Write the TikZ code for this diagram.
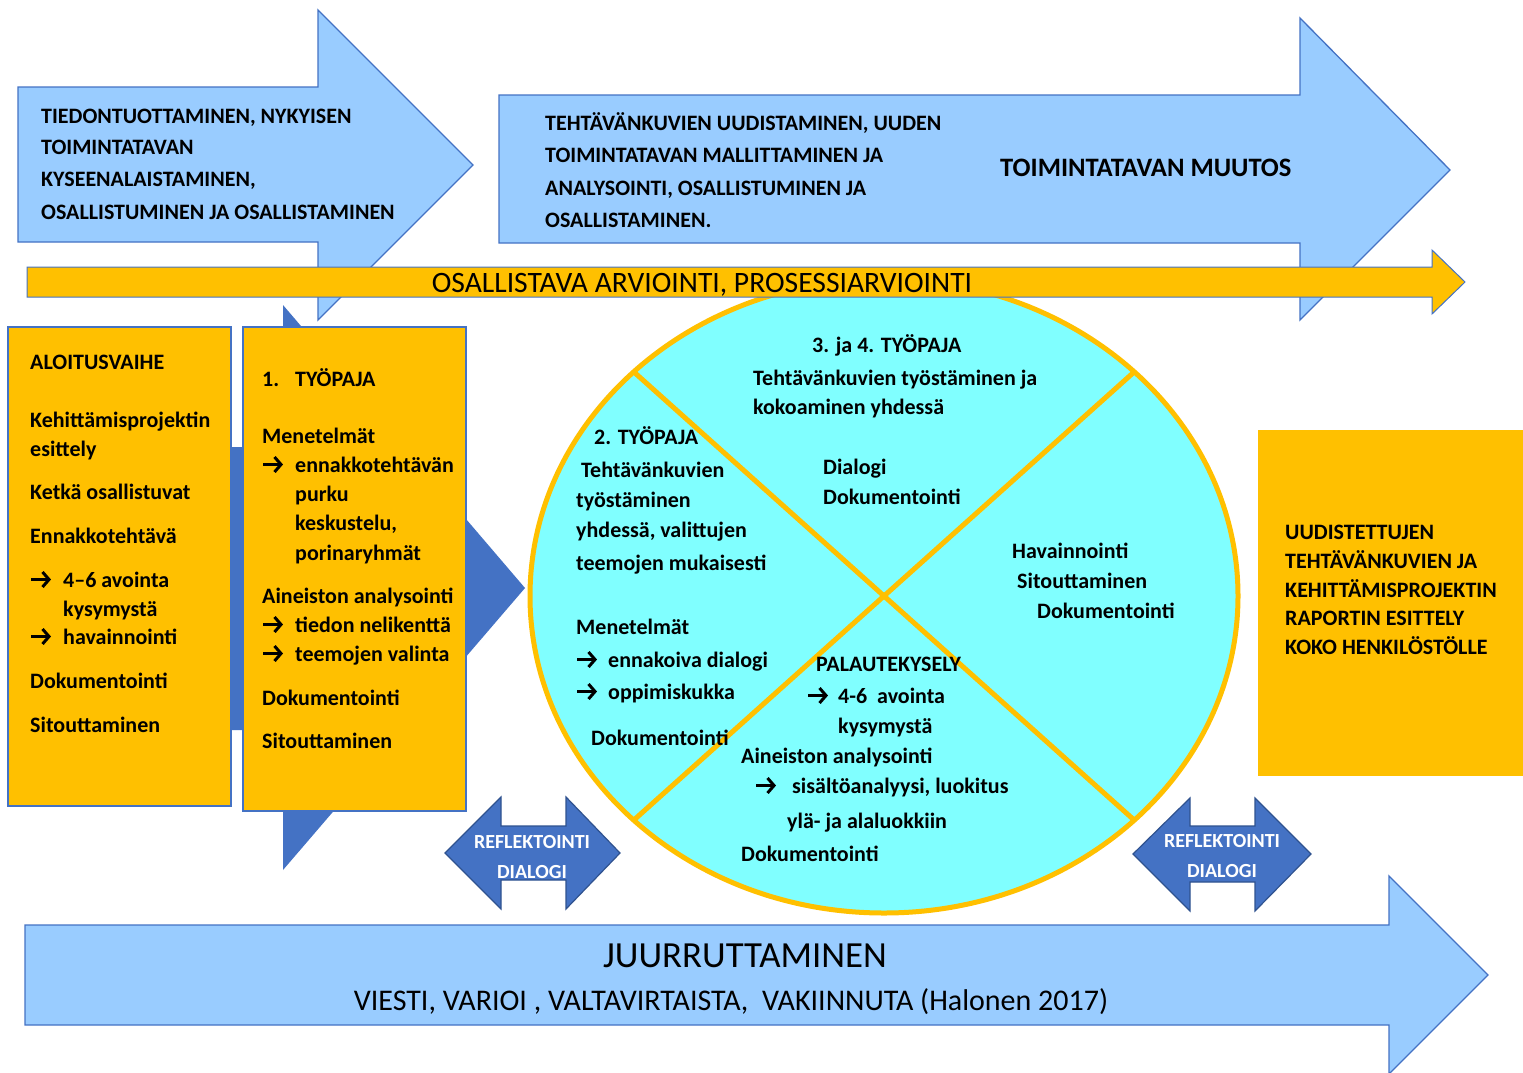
\documentclass[tikz,border=0pt]{standalone}
\usepackage{fontspec}
\usetikzlibrary{arrows.meta}
\setmainfont{Carlito}
\definecolor{lblue}{RGB}{153,204,255}
\definecolor{mblue}{RGB}{68,114,196}
\definecolor{dblue}{RGB}{47,82,143}
\definecolor{orng}{RGB}{255,192,0}
\definecolor{cyanf}{RGB}{128,255,255}
\newcommand{\ar}[1]{\makebox[#1pt][l]{}}
\begin{document}
\begin{tikzpicture}[x=1pt,y=-1pt,
  bt/.style={font=\fontsize{22}{26}\selectfont\bfseries, anchor=base west, inner sep=0pt},
  wt/.style={font=\fontsize{20}{24}\selectfont\bfseries, text=white, anchor=base, inner sep=0pt},
  lbarrow/.style={fill=lblue, draw=mblue, line width=1.3pt},
  obox/.style={fill=orng, draw=mblue, line width=1.2pt},
  dbl/.style={fill=mblue, draw=dblue, line width=1.2pt},
  sep/.style={draw=orng, line width=5pt},
  bularr/.style={line width=3pt, -{Straight Barb[length=6.5pt,width=15pt,line width=3pt]}}]
\useasboundingbox (0,0) rectangle (1523,1072);
\fill[white] (0,0) rectangle (1523,1072);
% top arrows
\draw[lbarrow] (18,87) -- (318,87) -- (318,10) -- (473,165) -- (318,320) -- (318,242) -- (18,242) -- cycle;
\draw[lbarrow] (499,95) -- (1300,95) -- (1300,18) -- (1450,170) -- (1300,320) -- (1300,243) -- (499,243) -- cycle;
% circle
\draw[sep, fill=cyanf] (884,596) ellipse [x radius=354, y radius=317];
\draw[sep] (633.7,371.8) -- (1134.3,820.2);
\draw[sep] (1134.3,371.8) -- (633.7,820.2);
% yellow arrow
\draw[fill=orng, draw=mblue, line width=1pt] (27,267) -- (1432,267) -- (1432,250) -- (1465,282) -- (1432,314) -- (1432,297) -- (27,297) -- cycle;
\node[font=\fontsize{29.6}{32}\selectfont, anchor=base, inner sep=0pt] (osal) at (702,292) {OSALLISTAVA ARVIOINTI, PROSESSIARVIOINTI};
% dark blue arrow behind boxes
\fill[mblue] (100,447) -- (283,447) -- (283,305) -- (525,588) -- (283,870) -- (283,730) -- (100,730) -- cycle;
% boxes
\draw[obox] (8,327) rectangle (231,806);
\draw[obox] (243,327) rectangle (466,811);
\fill[orng] (1258,430) rectangle (1523,776);
% double arrows
\draw[dbl] (445,853) -- (501,797) -- (501,826) -- (566,826) -- (566,797) -- (620,853) -- (566,909) -- (566,880) -- (501,880) -- (501,909) -- cycle;
\draw[dbl] (1133,854) -- (1190,798) -- (1190,826) -- (1255,826) -- (1255,798) -- (1311,854) -- (1255,911) -- (1255,882) -- (1190,882) -- (1190,911) -- cycle;
\node[wt] (r1) at (532,848) {REFLEKTOINTI};
\node[wt] (r2) at (532,878) {DIALOGI};
\node[wt] (r3) at (1222,847) {REFLEKTOINTI};
\node[wt] (r4) at (1222,877) {DIALOGI};
% bottom arrow
\draw[lbarrow] (25,925) -- (1389,925) -- (1389,876) -- (1488,975) -- (1389,1074) -- (1389,1025) -- (25,1025) -- cycle;
\node[font=\fontsize{36.8}{40}\selectfont, anchor=base, inner sep=0pt] (juur) at (745,967) {JUURRUTTAMINEN};
\node[font=\fontsize{30}{32}\selectfont, anchor=base, inner sep=0pt] (vies) at (731,1010) {VIESTI, VARIOI , VALTAVIRTAISTA,\ \ VAKIINNUTA (Halonen 2017)};
% arrow 1 text
\node[bt] (p1) at (41,123) {TIEDONTUOTTAMINEN, NYKYISEN};
\node[bt] (p2) at (41,154) {TOIMINTATAVAN};
\node[bt] (p3) at (41,186) {KYSEENALAISTAMINEN,};
\node[bt] (p4) at (41,219) {OSALLISTUMINEN JA OSALLISTAMINEN};
% arrow 2 text
\node[bt] (q1) at (545,130) {TEHTÄVÄNKUVIEN UUDISTAMINEN, UUDEN};
\node[bt] (q2) at (545,162) {TOIMINTATAVAN MALLITTAMINEN JA};
\node[bt] (q3) at (545,195) {ANALYSOINTI, OSALLISTUMINEN JA};
\node[bt] (q4) at (545,227) {OSALLISTAMINEN.};
\node[bt, font=\fontsize{26.6}{30}\selectfont\bfseries] (q5) at (1000,176) {TOIMINTATAVAN MUUTOS};
% box 1
\node[bt] (a1) at (30,369) {ALOITUSVAIHE};
\node[bt] (a2) at (30,427) {Kehittämisprojektin};
\node[bt] (a3) at (30,456) {esittely};
\node[bt] (a4) at (30,499) {Ketkä osallistuvat};
\node[bt] (a5) at (30,543) {Ennakkotehtävä};
\node[bt] (a6) at (30,587) {\ar{33}4–6 avointa};
\node[bt] (a7) at (63,616) {kysymystä};
\node[bt] (a8) at (30,644) {\ar{33}havainnointi};
\node[bt] (a9) at (30,688) {Dokumentointi};
\node[bt] (a10) at (30,732) {Sitouttaminen};
% box 2
\node[bt] (b1) at (262,386) {\makebox[33pt][l]{1.}TYÖPAJA};
\node[bt] (b2) at (262,443) {Menetelmät};
\node[bt] (b3) at (262,472) {\ar{33}ennakkotehtävän};
\node[bt] (b4) at (295,501) {purku};
\node[bt] (b5) at (295,530) {keskustelu,};
\node[bt] (b6) at (295,560) {porinaryhmät};
\node[bt] (b7) at (262,603) {Aineiston analysointi};
\node[bt] (b8) at (262,632) {\ar{33}tiedon nelikenttä};
\node[bt] (b9) at (262,661) {\ar{33}teemojen valinta};
\node[bt] (b10) at (262,705) {Dokumentointi};
\node[bt] (b11) at (262,748) {Sitouttaminen};
% circle top
\node[bt] (c1) at (812,352) {3. ja 4. TYÖPAJA};
\node[bt] (c2) at (753,385) {Tehtävänkuvien työstäminen ja};
\node[bt] (c3) at (753,414) {kokoaminen yhdessä};
\node[bt] (c4) at (823,474) {Dialogi};
\node[bt] (c5) at (823,504) {Dokumentointi};
% circle left
\node[bt] (d1) at (594,444) {2. TYÖPAJA};
\node[bt] (d2) at (581,477) {Tehtävänkuvien};
\node[bt] (d3) at (576,507) {työstäminen};
\node[bt] (d4) at (576,537) {yhdessä, valittujen};
\node[bt] (d5) at (576,570) {teemojen mukaisesti};
\node[bt] (d6) at (576,634) {Menetelmät};
\node[bt] (d7) at (576,667) {\ar{32}ennakoiva dialogi};
\node[bt] (d8) at (576,699) {\ar{32}oppimiskukka};
\node[bt] (d9) at (591,745) {Dokumentointi};
% circle right
\node[bt] (e1) at (1012,558) {Havainnointi};
\node[bt] (e2) at (1017,588) {Sitouttaminen};
\node[bt] (e3) at (1037,618) {Dokumentointi};
% circle bottom
\node[bt] (f1) at (816,671) {PALAUTEKYSELY};
\node[bt] (f2) at (807,703) {\ar{31}4-6\ \ avointa};
\node[bt] (f3) at (838,733) {kysymystä};
\node[bt] (f4) at (741,763) {Aineiston analysointi};
\node[bt] (f5) at (755,793) {\ar{37}sisältöanalyysi, luokitus};
\node[bt] (f6) at (787,828) {ylä- ja alaluokkiin};
\node[bt] (f7) at (741,861) {Dokumentointi};
% bullet arrows
\foreach \n in {a6,a8,b3,b8,b9,d7,d8,f2,f5}
  \draw[bularr] ([shift={(1,-7.5)}]\n.base west) -- ++(20,0);
% right box
\node[bt] (g1) at (1285,539) {UUDISTETTUJEN};
\node[bt] (g2) at (1285,568) {TEHTÄVÄNKUVIEN JA};
\node[bt] (g3) at (1285,597) {KEHITTÄMISPROJEKTIN};
\node[bt] (g4) at (1285,625) {RAPORTIN ESITTELY};
\node[bt] (g5) at (1285,654) {KOKO HENKILÖSTÖLLE};
\end{tikzpicture}
\end{document}
